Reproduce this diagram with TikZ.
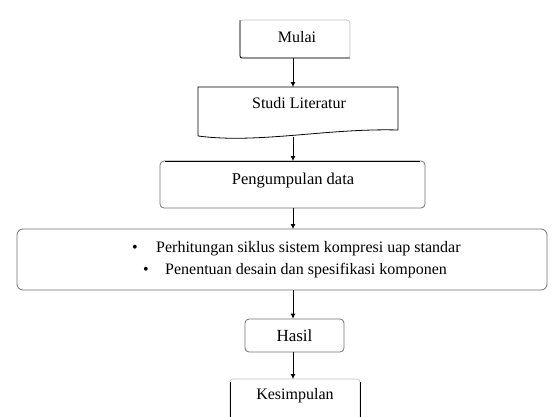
\documentclass[tikz,border=0pt]{standalone}
\usepackage{fontspec}
\setmainfont{Liberation Serif}
\usetikzlibrary{arrows.meta,calc}
\begin{document}
\begin{tikzpicture}[x=1pt,y=-1pt,
  txt/.style={font=\fontsize{16}{19}\selectfont, inner sep=0pt},
  shapebox/.style={draw=none, inner sep=0pt, outer sep=0pt},
  edgeline/.style={line width=0.8pt, black},
  faint/.style={line width=0.6pt, black!25},
  greyline/.style={line width=0.8pt, black!55},
  arr/.style={line width=0.8pt, -{Latex[length=5pt,width=5pt]}}
]
\useasboundingbox (0,0) rectangle (552,416);
\clip (0,0) rectangle (552,416);
\fill[white] (0,0) rectangle (552,416);
\coordinate (axis) at (293,0);

% Mulai
\node[shapebox, minimum width=110pt, minimum height=38pt] (mulai) at (295,39) {};
\draw[faint, rounded corners=3pt] (mulai.north west) rectangle (mulai.south east);
\draw[edgeline, rounded corners=2pt] (mulai.north west) -- (mulai.south west) -- (mulai.south east);
\node[txt] (mulaitxt) at (297,37) {Mulai};

% Studi Literatur (document shape)
\node[shapebox, minimum width=200pt, minimum height=49pt] (studi) at (298,111.5) {};
\draw[edgeline] (studi.south west) -- (studi.north west) -- (studi.north east) -- ($(studi.south east)+(0,-6)$)
  .. controls ($(studi.south east)+(-70,-8)$) and ($(studi.south west)+(60,8)$) .. (studi.south west);
\node[txt] (studitxt) at (299,103) {Studi Literatur};

% Pengumpulan data
\node[shapebox, minimum width=265pt, minimum height=47pt] (kumpul) at (292.5,184.5) {};
\draw[greyline, rounded corners=4pt] (kumpul.north west) rectangle (kumpul.south east);
\draw[edgeline] ($(kumpul.north west)+(5,0)$) -- ($(kumpul.north east)+(-5,0)$);
\node[txt, font=\fontsize{16.5}{19}\selectfont] (kumpultxt) at (293,181) {Pengumpulan data};

% Proses
\node[shapebox, minimum width=530pt, minimum height=61pt] (proses) at (282,259.5) {};
\draw[greyline, rounded corners=6pt] (proses.north west) rectangle (proses.south east);
\node[txt, anchor=west] (p1) at (132,249) {\makebox[24pt][l]{\textbullet}Perhitungan siklus sistem kompresi uap standar};
\node[txt, anchor=west] (p2) at (143,271) {\makebox[22pt][l]{\textbullet}Penentuan desain dan spesifikasi komponen};

% Hasil
\node[draw=black!55, line width=0.8pt, rounded corners=4pt, minimum width=99pt, minimum height=33pt,
      font=\fontsize{17}{20}\selectfont, inner sep=0pt] (hasil) at (294.5,335.5) {Hasil};

% Kesimpulan
\node[shapebox, minimum width=130pt, minimum height=46pt] (kes) at (295,402) {};
\draw[faint, rounded corners=3pt] (kes.north west) rectangle (kes.south east);
\draw[edgeline] ($(kes.north west)+(0,3)$) -- (kes.south west);
\draw[edgeline] ($(kes.north east)+(0,3)$) -- (kes.south east);
\node[txt] (kestxt) at (295,396) {Kesimpulan};

% Arrows
\draw[arr] (axis |- mulai.south) -- (axis |- studi.north);
\draw[arr] ($(axis |- studi.south)+(0,1)$) -- (axis |- kumpul.north);
\draw[arr] (axis |- kumpul.south) -- (axis |- proses.north);
\draw[arr] (axis |- proses.south) -- (axis |- hasil.north);
\draw[arr] (axis |- hasil.south) -- (axis |- kes.north);
\end{tikzpicture}
\end{document}
